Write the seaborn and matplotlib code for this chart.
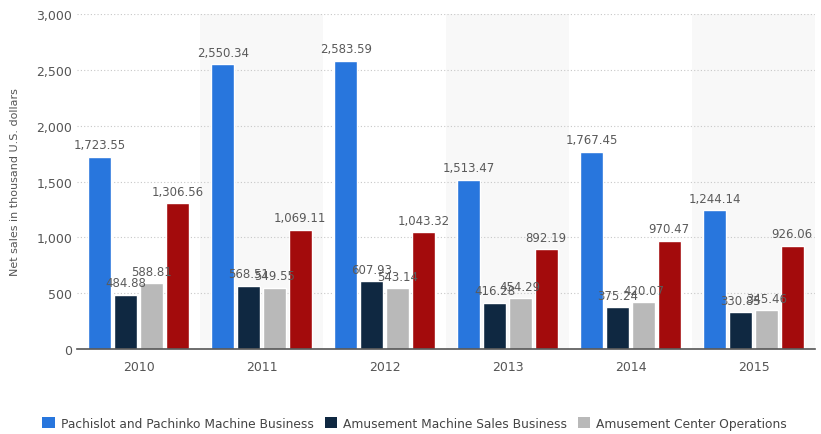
import matplotlib
matplotlib.use("Agg")
import matplotlib.pyplot as plt
import seaborn as sns
import pandas as pd
from matplotlib.patches import Patch

years = ["2010", "2011", "2012", "2013", "2014", "2015"]
series = [
    "Pachislot and Pachinko Machine Business",
    "Amusement Machine Sales Business",
    "Amusement Center Operations",
    "Resort Business",
]
pachislot = [1723.55, 2550.34, 2583.59, 1513.47, 1767.45, 1244.14]
machine_sales = [484.88, 568.51, 607.93, 416.28, 375.24, 330.85]
center_ops = [588.81, 549.55, 543.14, 454.29, 420.07, 345.46]
other = [1306.56, 1069.11, 1043.32, 892.19, 970.47, 926.06]
colors = ["#2876dd", "#0f2841", "#b9b9b9", "#a30b0c"]

values = [pachislot, machine_sales, center_ops, other]
rows = []
for name, vals in zip(series, values):
    for y, v in zip(years, vals):
        rows.append({"Year": y, "Segment": name, "Sales": v})
df = pd.DataFrame(rows)

sns.set_theme(style="white")
plt.rcParams["font.family"] = ["DejaVu Sans"]

fig = plt.figure(figsize=(8.21, 4.35), dpi=100)
ax = fig.add_axes([0.0938, 0.1954, 0.8989, 0.7701])

# alternating category bands
for i in range(1, len(years), 2):
    ax.axvspan(i - 0.5, i + 0.5, color="#f8f8f8", zorder=0, lw=0)

sns.barplot(data=df, x="Year", y="Sales", hue="Segment", hue_order=series,
            palette=colors, width=0.84, gap=0.12, saturation=1,
            errorbar=None, ax=ax, zorder=3)

for cont in ax.containers:
    ax.bar_label(cont, labels=[f"{b.get_height():,.2f}" for b in cont],
                 padding=4, fontsize=8.5, color="#5a5a5a")

ax.set_xlim(-0.5, len(years) - 0.5)
ax.set_ylim(0, 3000)
ax.set_yticks(range(0, 3001, 500))
ax.set_yticklabels([f"{v:,}" for v in range(0, 3001, 500)])
ax.yaxis.grid(True, linestyle=(0, (1, 2)), color="#c8c8c8", linewidth=0.8)
ax.set_axisbelow(True)
for s in ["top", "right", "left"]:
    ax.spines[s].set_visible(False)
ax.spines["bottom"].set_color("#555555")
ax.spines["bottom"].set_linewidth(1.2)
ax.spines["bottom"].set_zorder(4)
ax.tick_params(axis="both", length=0, labelsize=9, colors="#555555")
ax.tick_params(axis="x", pad=8)
ax.set_xlabel("")
ax.set_ylabel("Net sales in thousand U.S. dollars", fontsize=8, color="#555555",
              labelpad=12)

ax.legend_.remove()
handles = [Patch(facecolor=c, edgecolor="none") for c in colors[:3]]
fig.legend(handles, series[:3], loc="center", bbox_to_anchor=(0.505, 0.025),
           ncol=3, frameon=False, fontsize=8.8, handlelength=1.0,
           handleheight=1.0, columnspacing=0.9, handletextpad=0.5,
           labelcolor="#444444")

fig.savefig("out.png", dpi=100, facecolor="white")
